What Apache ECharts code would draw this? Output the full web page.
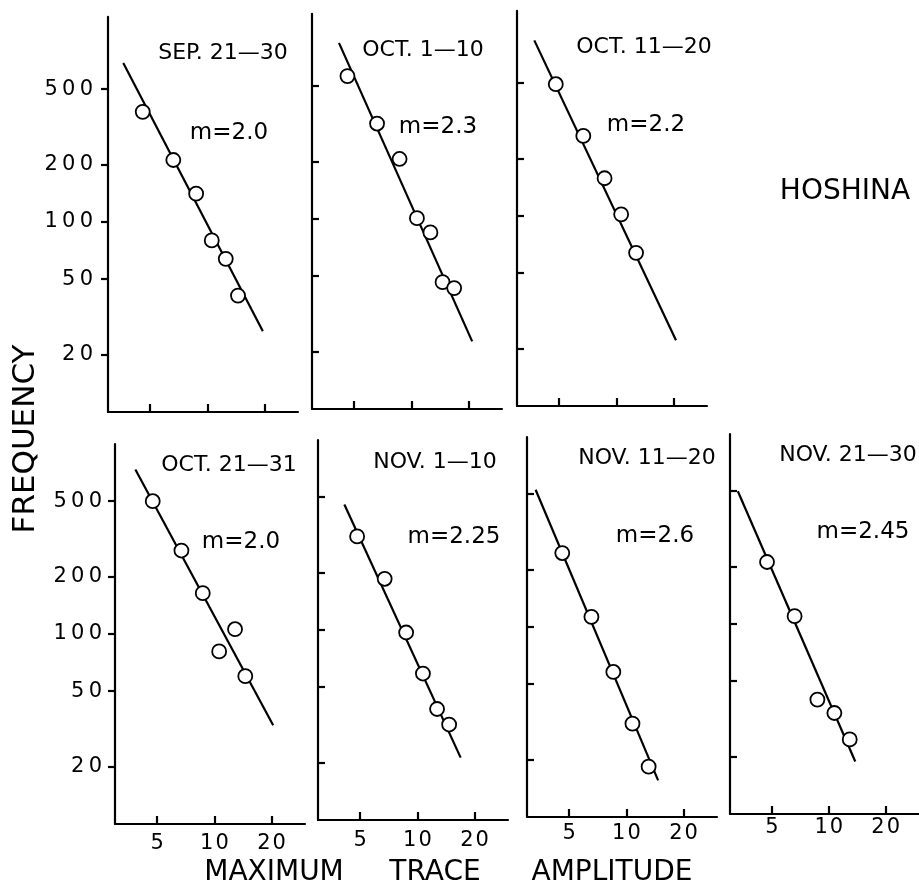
<!DOCTYPE html>
<html>
<head>
<meta charset="utf-8">
<script src="https://cdn.jsdelivr.net/npm/echarts@6/dist/echarts.min.js"></script>
<style>
  html, body { margin: 0; padding: 0; background: #fff; }
  #chart { width: 919px; height: 887px; }
</style>
</head>
<body>
<div id="chart"></div>
<script>
// values (amplitude, frequency), one set per 10-day period
const sepAmp = [4.57, 6.62, 8.73, 10.55, 12.5, 14.5]
const sepFreq = [380, 212, 141, 80, 64, 41]
const sepFit = [[3.61, 687], [19.6, 26.6]]

const oct1Amp = [4.61, 6.6, 8.67, 10.7, 12.6, 14.6, 16.8]
const oct1Freq = [565, 318, 207, 101, 85, 46.5, 43.3]
const oct1Fit = [[4.16, 845], [20.9, 22.7]]

const oct2Amp = [4.8, 6.7, 8.67, 10.6, 12.7]
const oct2Freq = [494, 264, 158, 102, 64]
const oct2Fit = [[3.7, 840], [20.6, 22.2]]

const oct3Amp = [4.74, 6.71, 8.69, 10.6, 12.85, 14.55]
const oct3Freq = [500, 275, 164, 81, 106, 60]
const oct3Fit = [[3.84, 734], [20.4, 33.1]]

const nov1Amp = [4.82, 6.73, 8.73, 10.7, 12.7, 14.7]
const nov1Freq = [311, 186, 97, 59, 38.4, 31.8]
const nov1Fit = [[4.13, 458], [16.9, 21.3]]

const nov2Amp = [4.6, 6.55, 8.54, 10.77, 13.1]
const nov2Freq = [245, 113, 58, 31, 18.4]
const nov2Fit = [[3.33, 528], [14.7, 15.6]]

const nov3Amp = [4.71, 6.59, 8.7, 10.7, 12.9]
const nov3Freq = [212, 110, 40, 34, 24.7]
const nov3Fit = [[3.3, 500], [13.8, 18.9]]

const titles = ['SEP. 21—30', 'OCT. 1—10', 'OCT. 11—20', 'OCT. 21—31', 'NOV. 1—10', 'NOV. 11—20', 'NOV. 21—30']
const slopes = ['m=2.0', 'm=2.3', 'm=2.2', 'm=2.0', 'm=2.25', 'm=2.6', 'm=2.45']
const ampTicks = [5, 10, 20]
const freqTicks = [20, 50, 100, 200, 500]

const ampList = [sepAmp, oct1Amp, oct2Amp, oct3Amp, nov1Amp, nov2Amp, nov3Amp]
const freqList = [sepFreq, oct1Freq, oct2Freq, oct3Freq, nov1Freq, nov2Freq, nov3Freq]
const fitList = [sepFit, oct1Fit, oct2Fit, oct3Fit, nov1Fit, nov2Fit, nov3Fit]

const FONT = 'DejaVu Sans'
const log = Math.log10
const DECADE = 190 // px per decade

// panel layout: left edge, x-axis line y, top value, label margins, tick direction
const panels = [
  { left: 108, base: 412, top: 1200, xLab: false, yLab: true, yMargin: 15, tIn: false, title: [223, 53], m: [229, 133] },
  { left: 312, base: 409, top: 1200, xLab: false, yLab: false, tIn: true, title: [423, 50], m: [438, 127] },
  { left: 517, base: 406, top: 1200, xLab: false, yLab: false, tIn: true, title: [644, 47], m: [646, 125] },
  { left: 115, base: 824, top: 1000, xLab: true, xMargin: 9, yLab: true, yMargin: 13, tIn: false, title: [229, 465], m: [241, 542] },
  { left: 318, base: 820, top: 1000, xLab: true, xMargin: 10, yLab: false, tIn: true, title: [435, 462], m: [454, 537] },
  { left: 527, base: 817, top: 1000, xLab: true, xMargin: 6, yLab: false, tIn: true, title: [647, 458], m: [655, 536] },
  { left: 730, base: 814, top: 1000, xLab: true, xMargin: 3, yLab: false, tIn: true, title: [848, 455], m: [863, 532] },
]

const spaced = (s, sep) => s.split('').join(sep)
const lineStyle = { color: '#000', width: 2.2 }

const grid = []
const xAxis = []
const yAxis = []
const series = []
const graphic = []

panels.forEach((p, i) => {
  const h = (log(p.top) - 1) * DECADE
  grid.push({ left: p.left, top: p.base - h, width: DECADE, height: h })
  xAxis.push({
    gridIndex: i,
    type: 'value',
    min: log(3),
    max: log(30),
    axisLine: { onZero: false, lineStyle },
    axisTick: { inside: true, length: 8, lineStyle, customValues: ampTicks.map(log) },
    axisLabel: {
      show: p.xLab,
      customValues: ampTicks.map(log),
      formatter: v => spaced(String(Math.round(10 ** v)), '\u200a'),
      margin: p.xMargin || 8,
      fontFamily: FONT,
      fontSize: 21,
      color: '#000',
    },
    splitLine: { show: false },
  })
  yAxis.push({
    gridIndex: i,
    type: 'value',
    min: 1,
    max: log(p.top),
    axisLine: { onZero: false, lineStyle },
    axisTick: { inside: p.tIn, length: 7, lineStyle, customValues: freqTicks.map(log) },
    axisLabel: {
      show: p.yLab,
      customValues: freqTicks.map(log),
      formatter: v => spaced(String(Math.round(10 ** v)), '\u2009'),
      margin: p.yMargin || 8,
      fontFamily: FONT,
      fontSize: 21,
      color: '#000',
    },
    splitLine: { show: false },
  })
  series.push({
    type: 'line',
    xAxisIndex: i,
    yAxisIndex: i,
    data: fitList[i].map(d => [log(d[0]), log(d[1])]),
    symbol: 'none',
    lineStyle,
    z: 1,
  })
  series.push({
    type: 'scatter',
    xAxisIndex: i,
    yAxisIndex: i,
    data: ampList[i].map((a, k) => [log(a), log(freqList[i][k])]),
    symbol: 'circle',
    symbolSize: 14,
    itemStyle: { color: '#fff', borderColor: '#000', borderWidth: 1.8, opacity: 1 },
    z: 2,
  })
  graphic.push({
    type: 'text', x: p.title[0], y: p.title[1],
    style: { text: titles[i], fontFamily: FONT, fontSize: 22, fill: '#000', align: 'center', verticalAlign: 'middle' },
  })
  graphic.push({
    type: 'text', x: p.m[0], y: p.m[1],
    style: { text: slopes[i], fontFamily: FONT, fontSize: 23, fill: '#000', align: 'center', verticalAlign: 'middle' },
  })
})

const bigText = (text, x, y, size, rotation) => ({
  type: 'text', x, y, rotation: rotation || 0,
  style: { text, fontFamily: FONT, fontSize: size, fill: '#000', align: 'center', verticalAlign: 'middle' },
})
graphic.push(bigText('HOSHINA', 845, 192, 28))
graphic.push(bigText('FREQUENCY', 26, 439, 31, Math.PI / 2))
graphic.push(bigText('MAXIMUM', 274, 873, 28))
graphic.push(bigText('TRACE', 435, 873, 28))
graphic.push(bigText('AMPLITUDE', 612, 873, 28))

const chart = echarts.init(document.getElementById('chart'))
chart.setOption({
  animation: false,
  backgroundColor: '#fff',
  grid,
  xAxis,
  yAxis,
  series,
  graphic,
})
</script>
</body>
</html>
